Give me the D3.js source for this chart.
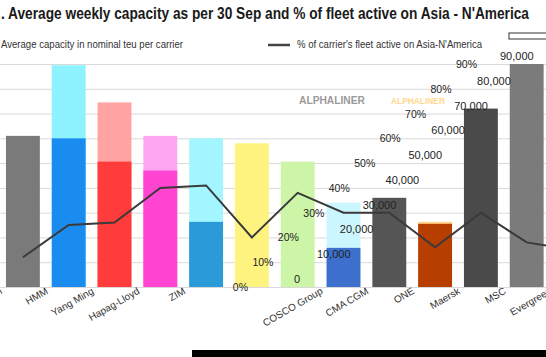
<!DOCTYPE html>
<html>
<head>
<meta charset="utf-8">
<script src="https://cdn.jsdelivr.net/npm/d3@7"></script>
<style>
  html, body { margin: 0; padding: 0; background: #fff; }
  svg { display: block; font-family: "Liberation Sans", Arial, sans-serif; }
</style>
</head>
<body>
<svg id="chart" width="546" height="357"></svg>
<script>
// ---- data ----
const carriers = ["Matson", "HMM", "Yang Ming", "Hapag-Lloyd", "ZIM", "", "", "COSCO Group", "CMA CGM", "ONE", "Maersk", "MSC", "Evergreen"];
const capacity = [61000, 89500, 74500, 61000, 60000, 58000, 50600, 34000, 36000, 26300, 72000, 90000, 45000];
const capacityLower = [null, 60000, 50600, 47000, 26300, null, null, 15800, null, 25500, null, null, null];
const pctActive = [0.12, 0.25, 0.26, 0.40, 0.41, 0.20, 0.38, 0.30, 0.30, 0.16, 0.30, 0.18, 0.15];
const capacityTicks = [0, 10000, 20000, 30000, 40000, 50000, 60000, 70000, 80000, 90000];
const pctTicks = [0, 0.1, 0.2, 0.3, 0.4, 0.5, 0.6, 0.7, 0.8, 0.9];
const titleText = ". Average weekly capacity as per 30 Sep and % of fleet active on Asia - N'America";
const legendBarText = "Average capacity in nominal teu per carrier";
const legendLineText = "% of carrier's fleet active on Asia-N'America";
const watermark = "ALPHALINER";

// ---- styles ----
const outerColors = ["#7a7a7a", "#8ef3ff", "#ffa3a3", "#ffa6f3", "#a3f6ff", "#fff380", "#cdf5a8", "#ccf6ff", "#555555", "#ffd48a", "#4a4a4a", "#7b7b7b", "#cfcfcf"];
const lowerColors = [null, "#1a8cf0", "#ff3b3b", "#ff45d2", "#2a9ad8", null, null, "#3d6fcc", null, "#b53e00", null, null, null];

const svg = d3.select("#chart");
const idx = carriers.map((d, i) => i);

const x = d3.scaleBand().domain(idx).range([0, 595.4]).paddingInner(0.26).paddingOuter(0.13);
const y = d3.scaleLinear().domain([0, 90000]).range([287, 64]);
const yp = d3.scaleLinear().domain([0, 0.9]).range([287, 64]);
// diagonal offsets of the tick labels, as in the picture
const capLabelX = d3.scaleLinear().domain([0, 90000]).range([294, 500]);
const pctLabelX = d3.scaleLinear().domain([0, 0.9]).range([248, 477]);

// title
svg.append("text").attr("x", 1).attr("y", 19)
  .attr("font-size", 16.5).attr("font-weight", 600).attr("fill", "#1a1a1a")
  .attr("textLength", 528).attr("lengthAdjust", "spacingAndGlyphs")
  .text(titleText);

// legend
svg.append("text").attr("x", 1).attr("y", 48).attr("font-size", 10).attr("fill", "#333")
  .attr("textLength", 182).attr("lengthAdjust", "spacingAndGlyphs").text(legendBarText);
svg.append("line").attr("x1", 268).attr("x2", 290).attr("y1", 45).attr("y2", 45)
  .attr("stroke", "#444").attr("stroke-width", 2.5);
svg.append("text").attr("x", 297).attr("y", 48).attr("font-size", 10).attr("fill", "#333")
  .attr("textLength", 185).attr("lengthAdjust", "spacingAndGlyphs").text(legendLineText);
svg.append("rect").attr("x", 509).attr("y", 33).attr("width", 40).attr("height", 6)
  .attr("fill", "#fff").attr("stroke", "#555").attr("stroke-width", 1.2);

// gridlines
svg.append("g").selectAll("line").data(capacityTicks).join("line")
  .attr("x1", 0).attr("x2", 546)
  .attr("y1", d => y(d) + 0.5).attr("y2", d => y(d) + 0.5)
  .attr("stroke", "#d9d9d9").attr("stroke-width", 1);

// watermark
svg.append("text").attr("x", 299).attr("y", 104).attr("font-size", 11.5).attr("font-weight", "bold")
  .attr("fill", "#9a9a9a").attr("textLength", 66).attr("lengthAdjust", "spacingAndGlyphs").text(watermark);
svg.append("text").attr("x", 391).attr("y", 104).attr("font-size", 9).attr("font-weight", "bold")
  .attr("fill", "#ffd890").attr("textLength", 54).attr("lengthAdjust", "spacingAndGlyphs").text(watermark);

// bars
const bars = svg.append("g");
bars.selectAll("rect.outer").data(idx).join("rect").attr("class", "outer")
  .attr("x", i => x(i)).attr("width", x.bandwidth())
  .attr("y", i => y(capacity[i])).attr("height", i => y(0) - y(capacity[i]))
  .attr("fill", i => outerColors[i]);
bars.selectAll("rect.lower").data(idx.filter(i => capacityLower[i] != null)).join("rect").attr("class", "lower")
  .attr("x", i => x(i)).attr("width", x.bandwidth())
  .attr("y", i => y(capacityLower[i])).attr("height", i => y(0) - y(capacityLower[i]))
  .attr("fill", i => lowerColors[i]);

// line
const line = d3.line().x((d, i) => x(i) + x.bandwidth() / 2).y(d => yp(d));
svg.append("path").datum(pctActive).attr("d", line)
  .attr("fill", "none").attr("stroke", "#3a3a3a").attr("stroke-width", 2);

// capacity tick labels
svg.append("g").selectAll("text").data(capacityTicks).join("text")
  .attr("x", d => capLabelX(d)).attr("y", d => y(d) - 4)
  .attr("font-size", 11).attr("fill", "#222")
  .text(d => d3.format(",")(d));

// percentage tick labels
svg.append("g").selectAll("text").data(pctTicks).join("text")
  .attr("x", d => pctLabelX(d)).attr("y", d => yp(d) + 4)
  .attr("text-anchor", "end").attr("font-size", 10.5).attr("fill", "#222")
  .text(d => d3.format(".0%")(d));

// category labels (rotated)
svg.append("g").selectAll("text").data(idx).join("text")
  .attr("text-anchor", "end").attr("font-size", 10).attr("fill", "#333")
  .attr("transform", i => `translate(${x(i) + x.bandwidth() / 2 - 20},${293}) rotate(-30)`)
  .text(i => carriers[i]);

// bottom strip
svg.append("rect").attr("x", 192).attr("y", 350).attr("width", 354).attr("height", 7).attr("fill", "#000");
</script>
</body>
</html>
